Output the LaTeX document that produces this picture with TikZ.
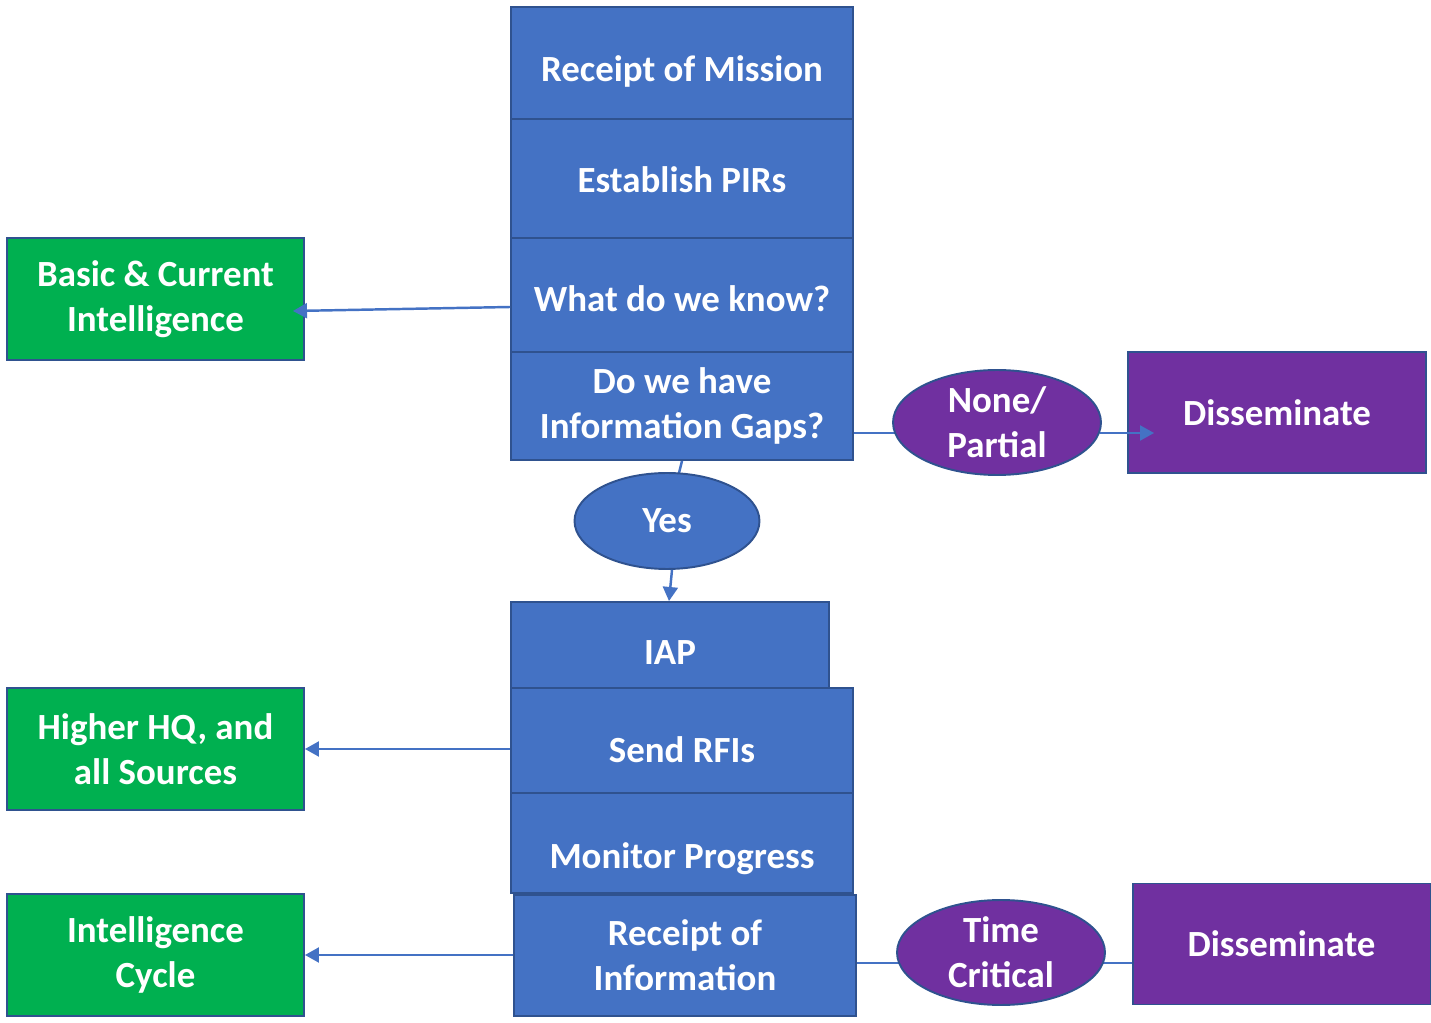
\documentclass[tikz,border=0pt]{standalone}
\usepackage{fontspec}
\setmainfont{Carlito}
\usetikzlibrary{calc,shapes.geometric,arrows.meta,backgrounds}
\definecolor{blu}{HTML}{4472C4}
\definecolor{edge}{HTML}{2F528F}
\definecolor{grn}{HTML}{00B050}
\definecolor{ppl}{HTML}{7030A0}
\tikzset{
	box/.style={draw=edge,line width=1.1pt,text=white,align=center,inner sep=0pt,
		font=\bfseries\fontsize{21}{25.5}\selectfont},
	blk/.style={box,fill=blu,minimum width=6.84cm},
	low/.style={text depth=4.5pt,text height=#1},
	gbox/.style={box,fill=grn,minimum width=5.94cm,minimum height=2.44cm},
	pbox/.style={box,fill=ppl,minimum width=5.96cm,minimum height=2.42cm},
	oval/.style={box,ellipse,minimum width=4.16cm,minimum height=2.1cm},
	lnk/.style={draw=blu,line width=1.4pt},
	arr/.style={lnk,-{Triangle[width=8.5pt,length=8pt]}}
}

\begin{document}
\begin{tikzpicture}[x=0.02cm,y=-0.02cm]
	\useasboundingbox (0,0) rectangle (1431,1023);
	% main column
	\node (mission) at (682,63) [blk,low=25pt,minimum height=2.24cm] {Receipt of Mission};
	\node (pirs) at (682,178.5) [blk,low=20pt,minimum height=2.38cm] {Establish PIRs};
	\node (know) at (682,295) [blk,low=23pt,minimum height=2.28cm] {What do we know?};
	\node (gaps) at (682,406) [blk,minimum height=2.16cm] {Do we have\\Information Gaps?};
	\node (yes) at (667,521) [oval,fill=blu,minimum width=3.7cm,minimum height=1.92cm] {Yes};
	\node (iap) at (670,645) [blk,low=27pt,minimum width=6.36cm,minimum height=1.72cm] {IAP};
	\node (rfis) at (682,740.5) [blk,low=30pt,minimum height=2.1cm] {Send RFIs};
	\node (monitor) at (682,843) [blk,low=33pt,minimum height=2cm] {Monitor Progress};
	\node (info) at (685,955.5) [blk,minimum height=2.42cm] {Receipt of\\Information};
	% sides
	\node (basic) at (155.5,299) [gbox] {Basic \& Current\\Intelligence};
	\node (higher) at (155.5,749) [gbox] {Higher HQ, and\\all Sources};
	\node (cycle) at (155.5,955) [gbox] {Intelligence\\Cycle};
	\node (none) at (997,422.5) [oval,fill=ppl] {None/\\Partial};
	\node (diss1) at (1277,412.5) [pbox] {Disseminate};
	\node (time) at (1001,952.5) [oval,fill=ppl] {Time\\Critical};
	\node (diss2) at (1281.5,944) [pbox] {Disseminate};
	% links
	\coordinate (gapline) at ($(gaps.east)+(0,27)$);
	\coordinate (infoline) at ($(info.east)+(0,7.5)$);
	\coordinate (noneout) at ($(none.east)+(-2,0)$);
	\coordinate (dissin) at ($(diss1.west)+(27,0)$);
	\begin{scope}[on background layer]
		\draw[lnk] (gapline) -- (none.center |- gapline);
		\draw[lnk] (infoline) -- (diss2.west |- infoline);
		\draw[lnk] (gaps.south) -- (yes.center);
	\end{scope}
	\draw[arr] (noneout |- gapline) -- (dissin |- gapline);
	\draw[arr] ($(yes.south)+(5,0)$) -- ($(iap.north)+(-1,0)$);
	\draw[arr] ($(know.west)+(0,12)$) -- ($(basic.east)+(-12,12)$);
	\draw[arr] (rfis.west |- higher.east) -- (higher.east);
	\draw[arr] (info.west |- cycle.east) -- (cycle.east);
\end{tikzpicture}
\end{document}
